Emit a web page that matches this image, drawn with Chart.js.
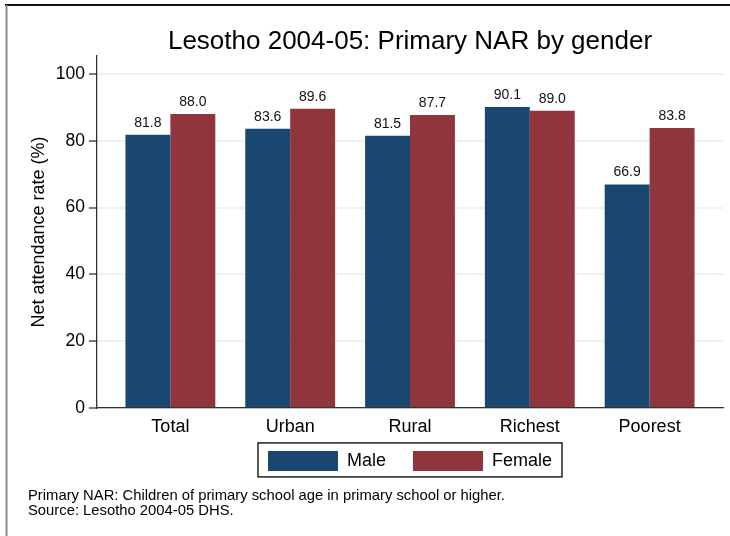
<!DOCTYPE html>
<html>
<head>
<meta charset="utf-8">
<script src="https://cdn.jsdelivr.net/npm/chart.js@4/dist/chart.umd.min.js"></script>
<style>
    html, body { margin: 0; padding: 0; background: #fff; }
    #wrap { position: relative; width: 730px; height: 536px; }
</style>
</head>
<body>
<div id="wrap"><canvas id="narChart"></canvas></div>
<script>
const categories = ['Total', 'Urban', 'Rural', 'Richest', 'Poorest'];
const maleValues = [81.8, 83.6, 81.5, 90.1, 66.9];
const femaleValues = [88.0, 89.6, 87.7, 89.0, 83.8];
const yTicks = [0, 20, 40, 60, 80, 100];
const footnote = [
    'Primary NAR: Children of primary school age in primary school or higher.',
    'Source: Lesotho 2004-05 DHS.'
];

const FONT = '"Liberation Sans", Arial, Helvetica, sans-serif';

// outer frame (top + left edge of the exported graph window)
const framePlugin = {
    id: 'frame',
    beforeDraw(chart) {
        const ctx = chart.ctx;
        ctx.save();
        ctx.fillStyle = '#fff';
        ctx.fillRect(0, 0, chart.width, chart.height);
        ctx.strokeStyle = '#111';
        ctx.lineWidth = 2;
        ctx.beginPath();
        ctx.moveTo(5, 5);
        ctx.lineTo(chart.width, 5);
        ctx.stroke();
        ctx.strokeStyle = '#8a8a8a';
        ctx.beginPath();
        ctx.moveTo(6.5, 5);
        ctx.lineTo(6.5, chart.height);
        ctx.stroke();
        ctx.restore();
    }
};

// value labels above the bars
const valueLabels = {
    id: 'valueLabels',
    afterDatasetsDraw(chart) {
        const ctx = chart.ctx;
        ctx.save();
        ctx.font = '14px ' + FONT;
        ctx.fillStyle = '#111';
        ctx.textAlign = 'center';
        ctx.textBaseline = 'bottom';
        chart.data.datasets.forEach((ds, di) => {
            chart.getDatasetMeta(di).data.forEach((bar, i) => {
                ctx.fillText(ds.data[i].y.toFixed(1), bar.x, bar.y - 5);
            });
        });
        ctx.restore();
    }
};

// box around the legend
const legendBorder = {
    id: 'legendBorder',
    afterDraw(chart) {
        const lg = chart.legend;
        const boxes = lg && lg.legendHitBoxes;
        if (!boxes || !boxes.length) return;
        const ctx = chart.ctx;
        const first = boxes[0];
        const last = boxes[boxes.length - 1];
        const left = first.left - 10;
        const right = last.left + last.width + 10;
        const top = first.top - 8;
        const bottom = first.top + first.height + 6;
        ctx.save();
        ctx.strokeStyle = '#222';
        ctx.lineWidth = 1.5;
        ctx.strokeRect(left, top, right - left, bottom - top);
        ctx.restore();
    }
};

const ctx = document.getElementById('narChart').getContext('2d');
new Chart(ctx, {
    type: 'bar',
    data: {
        datasets: [
            {
                label: 'Male',
                data: maleValues.map((v, i) => ({ x: i, y: v })),
                backgroundColor: '#1a476f',
                borderColor: '#1a476f',
                borderWidth: 0
            },
            {
                label: 'Female',
                data: femaleValues.map((v, i) => ({ x: i, y: v })),
                backgroundColor: '#90353b',
                borderColor: '#90353b',
                borderWidth: 0
            }
        ]
    },
    options: {
        responsive: true,
        maintainAspectRatio: false,
        animation: false,
        barPercentage: 1,
        categoryPercentage: 0.75,
        layout: {
            padding: { left: 28, right: 7, top: 0, bottom: 17.2 }
        },
        plugins: {
            title: {
                display: true,
                text: 'Lesotho 2004-05: Primary NAR by gender',
                fullSize: false,
                color: '#000',
                font: { family: FONT, size: 26, weight: 'normal', lineHeight: 1.1 },
                padding: { top: 27.4, bottom: 0 }
            },
            subtitle: {
                display: true,
                text: footnote,
                position: 'bottom',
                align: 'start',
                color: '#000',
                font: { family: FONT, size: 14.8, weight: 'normal', lineHeight: 1.03 },
                padding: { top: 7.4, bottom: 0 }
            },
            legend: {
                display: true,
                position: 'bottom',
                fullSize: false,
                labels: {
                    color: '#000',
                    font: { family: FONT, size: 18 },
                    boxWidth: 70,
                    boxHeight: 20,
                    padding: 17,
                    // wider gap between the two keys than the vertical padding
                    generateLabels: chart => {
                        const items = Chart.defaults.plugins.legend.labels.generateLabels(chart);
                        items.forEach((it, i) => {
                            if (i < items.length - 1) it.text = it.text + '  ';
                        });
                        return items;
                    }
                }
            },
            tooltip: { enabled: false }
        },
        scales: {
            x: {
                type: 'linear',
                offset: false,
                min: -0.6125,
                max: 4.6125,
                grid: { display: false, drawTicks: false },
                border: { display: true, color: '#333', width: 1.3 },
                ticks: {
                    stepSize: 1,
                    includeBounds: false,
                    autoSkip: false,
                    maxRotation: 0,
                    padding: 8,
                    color: '#000',
                    font: { family: FONT, size: 18 },
                    callback: value => categories[value] ?? ''
                },
                afterFit: scale => { scale.height = 26; }
            },
            y: {
                min: 0,
                max: 105.4,
                grid: {
                    color: '#eaf2f3',
                    lineWidth: 2,
                    tickColor: '#333',
                    tickWidth: 1.3,
                    tickLength: 8
                },
                border: { display: true, color: '#333', width: 1.3 },
                afterBuildTicks: scale => {
                    scale.ticks = yTicks.map(v => ({ value: v }));
                },
                ticks: {
                    padding: 4,
                    color: '#000',
                    font: { family: FONT, size: 17.5 }
                },
                title: {
                    display: true,
                    text: 'Net attendance rate (%)',
                    color: '#000',
                    font: { family: FONT, size: 18 },
                    padding: 0
                },
                afterFit: scale => { scale.width = 69; }
            }
        }
    },
    plugins: [framePlugin, valueLabels, legendBorder]
});
</script>
</body>
</html>
